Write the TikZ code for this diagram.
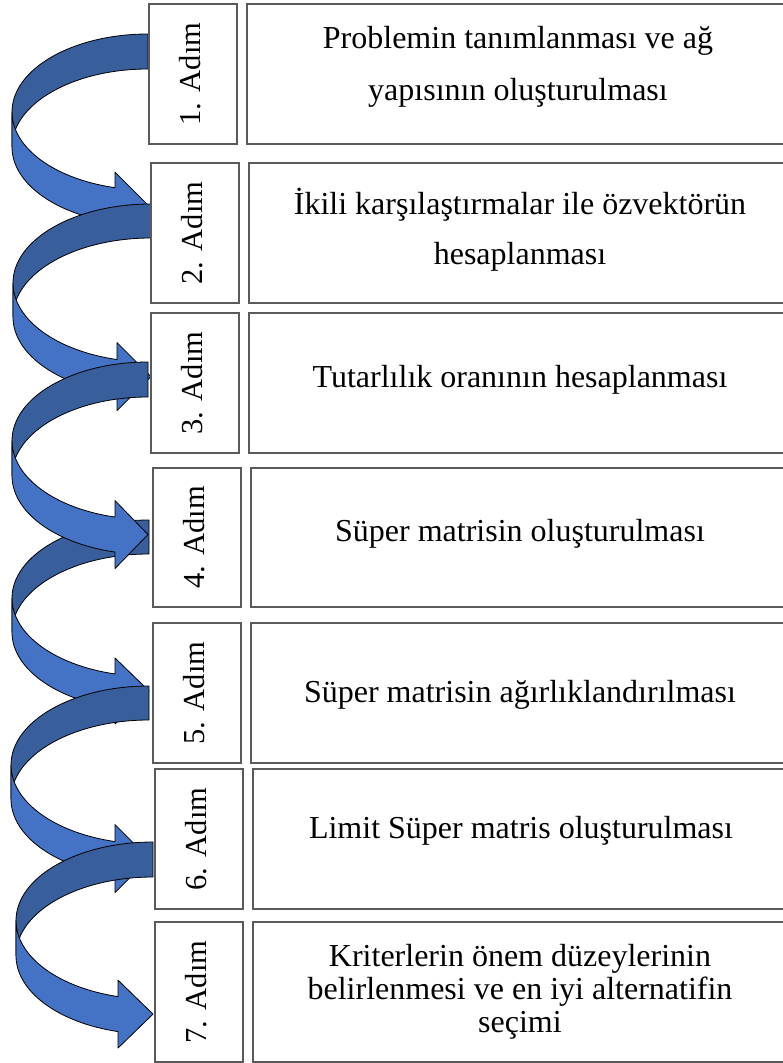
\documentclass[tikz,border=0pt]{standalone}
\usepackage{fontspec}
\setmainfont{Liberation Serif}
\definecolor{bandback}{RGB}{56,94,156}
\definecolor{bandfront}{RGB}{68,114,196}
\definecolor{boxline}{RGB}{90,90,90}

% Curved ribbon arrow: back ribbon (upper half) and front ribbon with head.
% #1 right x, #2 top y, #3 ribbon width, #4 left x, #5 vertical radius,
% #6 x of the head's base, #7 half height of the head
\newcommand\stepcurve[7]{%
  \pgfmathsetmacro\arA{#1-#4}%
  \pgfmathsetmacro\arT{180-acos((#1-#6)/\arA)}%
  \pgfmathsetmacro\arS{sin(\arT)}%
  \pgfmathsetmacro\arYin{#2+#5+#5*\arS}%
  \pgfmathsetmacro\arYout{\arYin+#3}%
  \pgfmathsetmacro\arYc{\arYin+#3/2}%
  \draw[ribbonback] (#1,#2)
    arc[start angle=-90, end angle=-180, x radius=\arA, y radius=#5]
    -- (#4,#2+#3+#5)
    arc[start angle=180, end angle=270, x radius=\arA, y radius=#5]
    -- cycle;
  \draw[ribbonfront] (#4,#2+#5)
    arc[start angle=180, end angle=\arT, x radius=\arA, y radius=#5]
    -- (#6,\arYc-#7) -- (#1,\arYc) -- (#6,\arYc+#7) -- (#6,\arYout)
    arc[start angle=\arT, end angle=180, x radius=\arA, y radius=#5]
    -- cycle;
}

\begin{document}
\begin{tikzpicture}[x=1pt, y=-1pt,
  ribbonback/.style={fill=bandback, draw=black, line width=0.8pt, line join=round},
  ribbonfront/.style={fill=bandfront, draw=black, line width=0.8pt, line join=round},
  stepbox/.style={draw=boxline, line width=1.3pt, fill=white, inner sep=0pt,
    minimum width=88pt, minimum height=140pt},
  textbox/.style={draw=boxline, line width=1.3pt, fill=white, inner sep=0pt,
    minimum height=140pt},
  steplabel/.style={font=\fontsize{30.5}{36}\selectfont, rotate=90, anchor=base, inner sep=0pt},
  steptext/.style={font=\fontsize{32}{38}\selectfont, anchor=base, inner sep=0pt}]
\useasboundingbox (0,0) rectangle (783,1063);
\clip (0,0) rectangle (783,1063);

% ribbons from one step to the next (the fourth lies under the third)
\stepcurve{148}{34}{35}{12}{78}{115}{33}
\stepcurve{151}{204}{34}{13}{79}{117}{34}
\stepcurve{149}{520}{34}{12}{78.2}{115}{33}
\stepcurve{148}{362}{35}{12}{78.7}{115}{34}
\stepcurve{149}{686}{34}{11}{79}{115}{34}
\stepcurve{153}{842}{35}{16}{78.6}{118}{34}

% step boxes
\node[stepbox] (s1) at (193,74) {};
\node[stepbox] (s2) at (195,233) {};
\node[stepbox] (s3) at (195,383) {};
\node[stepbox, minimum height=139pt] (s4) at (197,537.5) {};
\node[stepbox] (s5) at (197,693) {};
\node[stepbox] (s6) at (199,839) {};
\node[stepbox] (s7) at (199,992) {};

\node[steplabel] (l1) at (200,74) {1. Adım};
\node[steplabel] (l2) at (202,233) {2. Adım};
\node[steplabel] (l3) at (202,383) {3. Adım};
\node[steplabel] (l4) at (204,537.5) {4. Adım};
\node[steplabel] (l5) at (204,693) {5. Adım};
\node[steplabel] (l6) at (206,839) {6. Adım};
\node[steplabel] (l7) at (206,992) {7. Adım};

% description boxes (open to the right edge)
\node[textbox, minimum width=543pt] (d1) at (518.5,74) {};
\node[textbox, minimum width=541pt] (d2) at (519.5,233) {};
\node[textbox, minimum width=541pt] (d3) at (519.5,383) {};
\node[textbox, minimum width=539pt, minimum height=139pt] (d4) at (520.5,537.5) {};
\node[textbox, minimum width=539pt] (d5) at (520.5,693) {};
\node[textbox, minimum width=537pt] (d6) at (521.5,839) {};
\node[textbox, minimum width=537pt] (d7) at (521.5,992) {};

\node[steptext] (t1a) at (518,48) {Problemin tanımlanması ve ağ};
\node[steptext] (t1b) at (518,100) {yapısının oluşturulması};
\node[steptext] (t2a) at (520,214) {İkili karşılaştırmalar ile özvektörün};
\node[steptext] (t2b) at (520,264) {hesaplanması};
\node[steptext] (t3) at (520,387) {Tutarlılık oranının hesaplanması};
\node[steptext] (t4) at (520,541) {Süper matrisin oluşturulması};
\node[steptext] (t5) at (520,702) {Süper matrisin ağırlıklandırılması};
\node[steptext] (t6) at (521,838) {Limit Süper matris oluşturulması};
\node[steptext] (t7a) at (520,966) {Kriterlerin önem düzeylerinin};
\node[steptext] (t7b) at (520,999) {belirlenmesi ve en iyi alternatifin};
\node[steptext] (t7c) at (520,1032) {seçimi};
\end{tikzpicture}
\end{document}
